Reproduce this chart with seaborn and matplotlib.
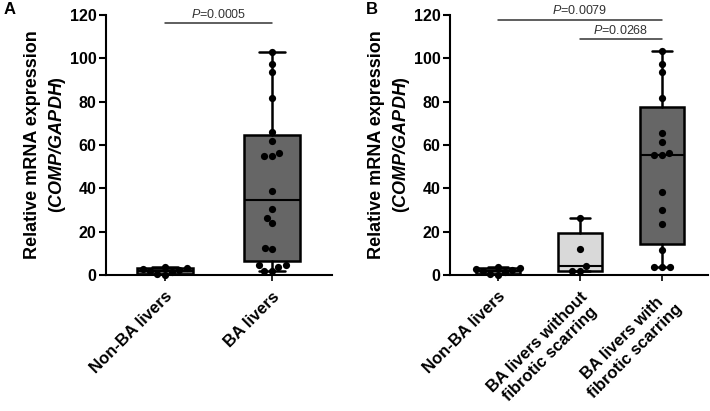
import numpy as np
import pandas as pd
import matplotlib
matplotlib.use('Agg')
import matplotlib.pyplot as plt
import seaborn as sns


# ==========================================
# DATOS
# ==========================================

non_ba = [0.2, 0.5, 1.2, 1.8, 2.2, 2.8, 3.1, 3.6]

ba_all = [103.0, 97.5, 93.8, 81.7, 65.8, 61.7, 56.3, 55.0, 55.0, 38.6,
          30.4, 26.5, 24.2, 12.6, 11.8, 4.4, 4.4, 3.8, 2.0, 2.0]

ba_without = [26.5, 12.2, 4.0, 2.0, 2.0]

ba_with = [103.5, 97.2, 93.8, 81.6, 65.5, 61.5, 56.4, 55.2, 55.2, 38.2,
           30.1, 23.7, 11.4, 3.6, 3.6, 3.6]

labels_a = ['Non-BA livers', 'BA livers']
labels_b = ['Non-BA livers', 'BA livers without\nfibrotic scarring',
            'BA livers with\nfibrotic scarring']

colors_a = ['#666666', '#666666']
colors_b = ['#666666', '#d9d9d9', '#666666']

pvals_a = ['0.0005']
pvals_b = ['0.0079', '0.0268']


# ==========================================
# ESTILO
# ==========================================

sns.set_style('ticks')
plt.rcParams['font.family'] = ['Liberation Sans', 'DejaVu Sans']
plt.rcParams['mathtext.fontset'] = 'custom'
plt.rcParams['mathtext.rm'] = 'Liberation Sans'
plt.rcParams['mathtext.it'] = 'Liberation Sans:italic'
plt.rcParams['mathtext.bf'] = 'Liberation Sans:bold'
plt.rcParams['mathtext.bfit'] = 'Liberation Sans:italic:bold'
for key in ['text.color', 'axes.labelcolor', 'xtick.color',
            'ytick.color', 'axes.edgecolor']:
    plt.rcParams[key] = 'black'

W, H = 710, 411
fig = plt.figure(figsize=(W / 100, H / 100), dpi=100)


def px_axes(left, right, top, bottom):
    return fig.add_axes([left / W, 1 - bottom / H,
                         (right - left) / W, (bottom - top) / H])


def box_stats(values):
    # cuartiles como GraphPad (n+1)p
    v = np.asarray(values)
    return {
        'med': np.median(v),
        'q1': np.percentile(v, 25, method='weibull'),
        'q3': np.percentile(v, 75, method='weibull'),
        'whislo': v.min(),
        'whishi': v.max(),
        'fliers': [],
    }


# ==========================================
# PANEL
# ==========================================

def panel(ax, groups, labels, colors, xlim):

    df = pd.DataFrame({
        'grupo': np.repeat(range(len(groups)), [len(g) for g in groups]),
        'valor': np.concatenate(groups),
    })

    bp = ax.bxp(
        [box_stats(g) for g in groups],
        positions=range(len(groups)),
        widths=0.53,
        patch_artist=True,
        showfliers=False,
        boxprops=dict(linewidth=1.8, edgecolor='black'),
        whiskerprops=dict(linewidth=1.8, color='black'),
        capprops=dict(linewidth=1.8, color='black'),
        medianprops=dict(linewidth=1.5, color='black'),
        capwidths=0.24,
        zorder=1,
    )
    for patch, c in zip(bp['boxes'], colors):
        patch.set_facecolor(c)

    sns.swarmplot(
        data=df,
        x='grupo',
        y='valor',
        native_scale=True,
        color='black',
        size=5.2,
        ax=ax,
        zorder=3,
    )
    for coll in ax.collections:
        coll.set_clip_on(False)

    ax.set_xlim(*xlim)
    ax.set_ylim(0, 120)
    ax.set_yticks(range(0, 121, 20))
    ax.set_xticks(range(len(groups)))
    ax.set_xticklabels(labels, rotation=45, ha='right',
                       rotation_mode='anchor', fontweight='bold',
                       fontsize=12, multialignment='center')
    for t in ax.get_yticklabels():
        t.set_fontweight('bold')
        t.set_fontsize(11.5)
    ax.tick_params(axis='y', length=5, width=1.5, pad=2)
    ax.tick_params(axis='x', length=4, width=1.2, pad=6)
    ax.set_xlabel('')
    ax.set_ylabel('Relative mRNA expression\n($\\mathbfit{COMP/GAPDH}$)',
                  fontweight='bold', fontsize=13, labelpad=1,
                  linespacing=1.4)
    sns.despine(ax=ax)
    for s in ['left', 'bottom']:
        ax.spines[s].set_linewidth(1.5)


def bracket(ax, x0, x1, y, ytext, p):
    ax.plot([x0, x1], [y, y], color='#333333', lw=1.1, clip_on=False)
    ax.text((x0 + x1) / 2, ytext, '$\\it{P}$=' + p, ha='center',
            va='center', fontsize=9, color='#333333', clip_on=False)


ax_a = px_axes(106, 332, 15, 275)
panel(ax_a, [non_ba, ba_all], labels_a, colors_a, (-0.55, 1.56))
bracket(ax_a, 0, 1, 116.4, 120.4, pvals_a[0])

ax_b = px_axes(450, 708, 15, 275)
panel(ax_b, [non_ba, ba_without, ba_with], labels_b, colors_b,
      (-0.585, 2.56))
bracket(ax_b, 0, 2, 117.7, 122.2, pvals_b[0])
bracket(ax_b, 1, 2, 108.8, 113.0, pvals_b[1])

fig.text(4 / W, 1 - 10 / H, 'A', fontweight='bold', fontsize=12,
         va='center', ha='left')
fig.text(366 / W, 1 - 10 / H, 'B', fontweight='bold', fontsize=12,
         va='center', ha='left')

fig.savefig('out.png', dpi=100)
